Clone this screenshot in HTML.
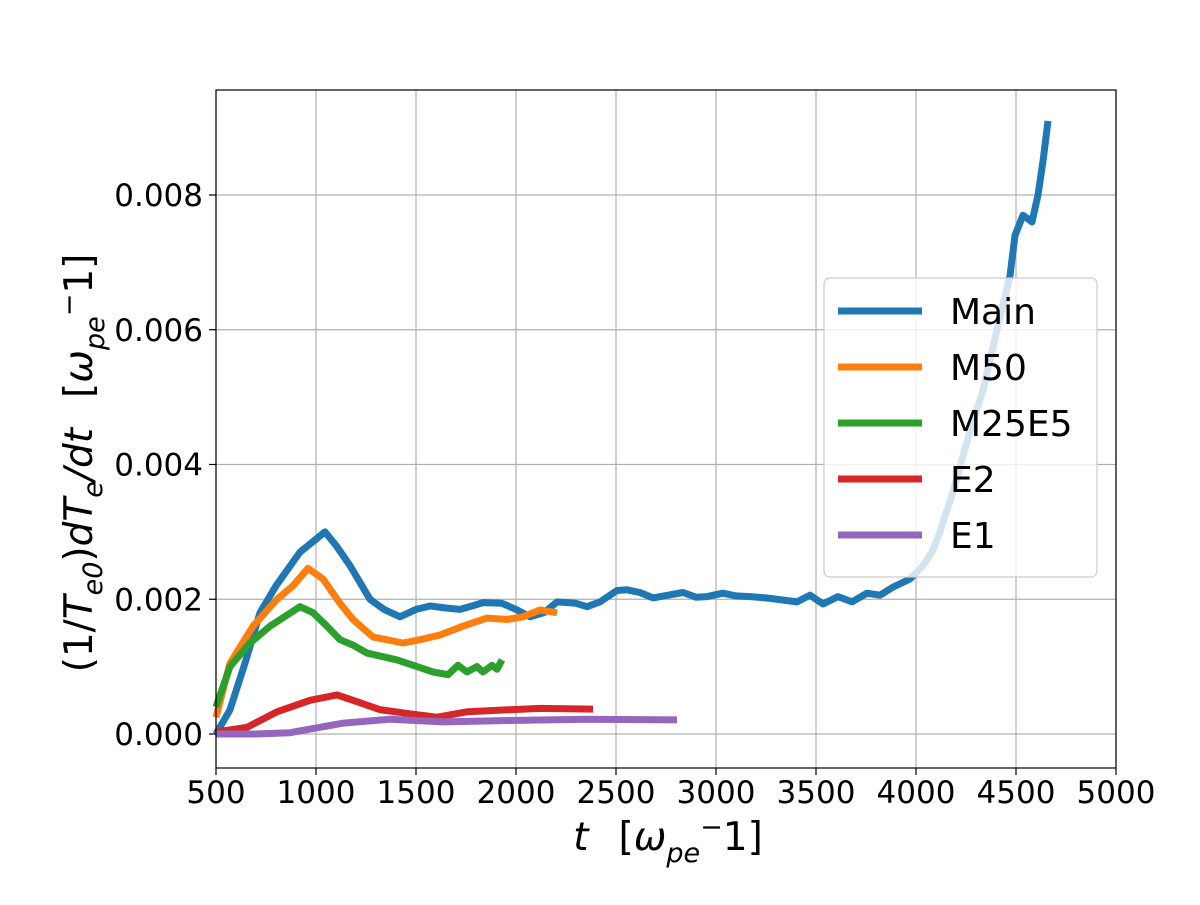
<!DOCTYPE html>
<html><head><meta charset="utf-8"><style>
body{margin:0;background:#fff}
svg text{font-family:"DejaVu Sans","Liberation Sans",sans-serif;fill:#000}
</style></head><body>
<svg id="chart" width="1200" height="900" viewBox="0 0 1200 900" xmlns="http://www.w3.org/2000/svg">
<rect width="1200" height="900" fill="#fff"/>
<g id="grid"></g>
<g id="series"></g>
<rect x="216" y="90" width="900" height="678" fill="none" stroke="#000" stroke-width="1.2"/>
<g id="ticks"></g>
<text x="668" y="850" font-size="39" text-anchor="middle"><tspan font-style="italic">t</tspan><tspan dx="30">[</tspan><tspan font-style="italic">ω</tspan><tspan font-size="27" dy="12" font-style="italic">pe</tspan><tspan font-size="27" dy="-26">−</tspan><tspan dy="14">1]</tspan></text>
<text transform="translate(92,463) rotate(-90)" font-size="39" text-anchor="middle">(1/<tspan font-style="italic">T</tspan><tspan font-size="27" dy="10" font-style="italic">e0</tspan><tspan dy="-10">)</tspan><tspan font-style="italic">dT</tspan><tspan font-size="27" dy="10" font-style="italic">e</tspan><tspan dy="-10" font-style="italic">/dt</tspan><tspan dx="30">[</tspan><tspan font-style="italic">ω</tspan><tspan font-size="27" dy="12" font-style="italic">pe</tspan><tspan font-size="27" dy="-26">−</tspan><tspan dy="14">1]</tspan></text>
<g id="legend"></g>
</svg>
<script>
const xTicks=[500,1000,1500,2000,2500,3000,3500,4000,4500,5000];
const yTicks=[0,0.002,0.004,0.006,0.008];
const yTickLabels=["0.000","0.002","0.004","0.006","0.008"];
const seriesNames=["Main","M50","M25E5","E2","E1"];
const seriesColors=["#1f77b4","#ff7f0e","#2ca02c","#d62728","#9467bd"];
const mainT=[500,570,650,720,800,920,1045,1100,1170,1270,1340,1420,1500,1570,1650,1720,1780,1835,1930,2000,2070,2140,2205,2300,2355,2420,2505,2555,2620,2685,2760,2835,2900,2955,3035,3100,3170,3250,3405,3470,3535,3610,3680,3755,3820,3885,3970,4035,4080,4120,4185,4270,4335,4405,4470,4495,4535,4580,4610,4635,4660];
const mainV=[0.0000,0.00036,0.0011,0.0018,0.0022,0.0027,0.0030,0.0028,0.0025,0.0020,0.00185,0.00174,0.00185,0.0019,0.00187,0.00185,0.0019,0.00195,0.00194,0.00185,0.00174,0.0018,0.00196,0.00194,0.00189,0.00196,0.00213,0.00214,0.0021,0.00202,0.00206,0.0021,0.00203,0.00204,0.00209,0.00205,0.00204,0.00202,0.00196,0.00206,0.00193,0.00204,0.00196,0.00209,0.00206,0.00218,0.0023,0.0025,0.0027,0.003,0.0036,0.0045,0.0051,0.006,0.0068,0.0074,0.0077,0.0076,0.0080,0.0085,0.0091];
const m50T=[500,570,685,805,885,960,1035,1120,1185,1285,1435,1520,1620,1735,1855,1955,2035,2120,2205];
const m50V=[0.00025,0.00105,0.0016,0.002,0.0022,0.00246,0.0023,0.00194,0.0017,0.00144,0.00135,0.0014,0.00147,0.0016,0.00172,0.0017,0.00174,0.00184,0.0018];
const m25T=[500,570,670,770,920,985,1055,1120,1185,1255,1405,1505,1585,1660,1710,1755,1805,1835,1880,1905,1930];
const m25V=[0.0004,0.001,0.00135,0.0016,0.00189,0.0018,0.0016,0.0014,0.00132,0.0012,0.0011,0.001,0.00092,0.00088,0.00102,0.00092,0.001,0.00092,0.00102,0.00096,0.0011];
const e2T=[500,655,805,970,1105,1205,1320,1470,1605,1755,1970,2120,2385];
const e2V=[0.00003,0.0001,0.00033,0.0005,0.00058,0.00048,0.00036,0.0003,0.00025,0.00033,0.00036,0.00038,0.00037];
const e1T=[500,700,870,1135,1370,1635,1970,2355,2805];
const e1V=[0,0.0000,0.00002,0.00016,0.00022,0.00018,0.0002,0.00022,0.00021];
const allT=[mainT,m50T,m25T,e2T,e1T];
const allV=[mainV,m50V,m25V,e2V,e1V];

const NS="http://www.w3.org/2000/svg";
const X=t=>216+(t-500)*0.2;
const Y=v=>734-v*67375;
function mk(tag,parent,attrs){const e=document.createElementNS(NS,tag);for(const k in attrs)e.setAttribute(k,attrs[k]);parent.appendChild(e);return e;}
const grid=document.getElementById('grid'),ticks=document.getElementById('ticks'),ser=document.getElementById('series'),leg=document.getElementById('legend');
xTicks.forEach(t=>{
  const g=mk('line',grid,{x1:X(t),x2:X(t),y1:90,y2:768,stroke:'#b0b0b0','stroke-width':1.2});
  
  
  const tk=mk('line',ticks,{x1:X(t),x2:X(t),y1:768,y2:775,stroke:'#000','stroke-width':1.2});
  
  
  const l=mk('text',ticks,{x:X(t),y:803,'font-size':31,'text-anchor':'middle'});l.textContent=t;
  
  
});
yTicks.forEach((v,i)=>{
  const g=mk('line',grid,{x1:216,x2:1116,y1:Y(v),y2:Y(v),stroke:'#b0b0b0','stroke-width':1.2});
  
  
  const tk=mk('line',ticks,{x1:209,x2:216,y1:Y(v),y2:Y(v),stroke:'#000','stroke-width':1.2});
  
  
  const l=mk('text',ticks,{x:203,y:Y(v)+11,'font-size':31,'text-anchor':'end'});l.textContent=yTickLabels[i];
  
  
});
allT.forEach((ts,s)=>{
  const d=ts.map((t,i)=>(i?'L':'M')+X(t).toFixed(1)+','+Y(allV[s][i]).toFixed(1)).join(' ');
  const p=mk('path',ser,{d:d,fill:'none',stroke:seriesColors[s],'stroke-width':7,'stroke-linejoin':'round','stroke-linecap':'butt'});
  
  
});
const box=mk('rect',leg,{x:824,y:278,width:273,height:299,rx:6,fill:'rgba(255,255,255,0.8)',stroke:'#cccccc','stroke-width':1.2});


seriesNames.forEach((n,i)=>{
  const y=311+i*56;
  const ln=mk('line',leg,{x1:838,x2:922,y1:y,y2:y,stroke:seriesColors[i],'stroke-width':7});
  
  
  const t=mk('text',leg,{x:950,y:y+13,'font-size':36});t.textContent=n;
  
  
});
</script>
</body></html>
